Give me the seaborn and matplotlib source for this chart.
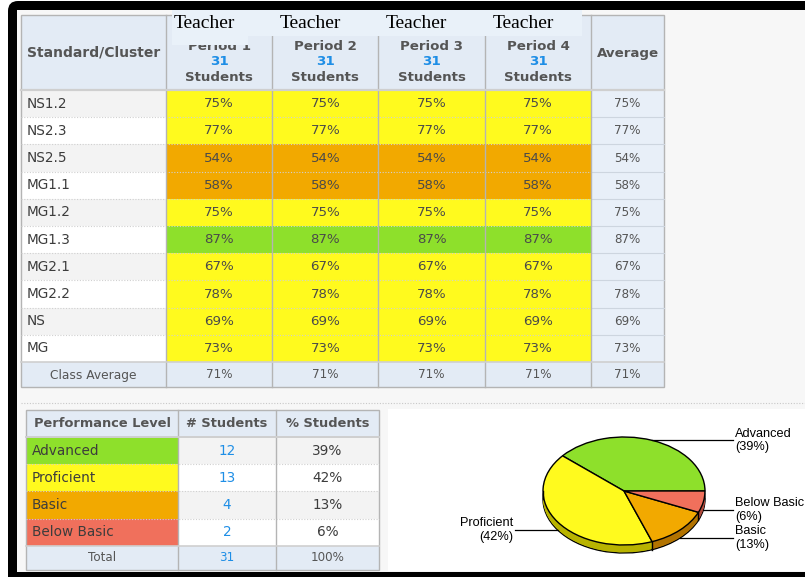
import numpy as np
import pandas as pd
import matplotlib
matplotlib.use("Agg")
import matplotlib.pyplot as plt
from matplotlib.colors import ListedColormap
from matplotlib.patches import Rectangle, FancyBboxPatch
import seaborn as sns

# ---- data ----
standards = ["NS1.2", "NS2.3", "NS2.5", "MG1.1", "MG1.2", "MG1.3", "MG2.1", "MG2.2", "NS", "MG"]
periods = ["Period 1", "Period 2", "Period 3", "Period 4"]
period_students = [31, 31, 31, 31]
period_1 = [75, 77, 54, 58, 75, 87, 67, 78, 69, 73]
period_2 = [75, 77, 54, 58, 75, 87, 67, 78, 69, 73]
period_3 = [75, 77, 54, 58, 75, 87, 67, 78, 69, 73]
period_4 = [75, 77, 54, 58, 75, 87, 67, 78, 69, 73]

levels = ["Advanced", "Proficient", "Basic", "Below Basic"]
level_students = [12, 13, 4, 2]
level_cuts = [50, 65, 80]  # below basic | basic | proficient | advanced

level_colors = ["#8ee02b", "#fffa1e", "#f2a900", "#f0705c"]
side_colors = ["#5f9a1c", "#b8b300", "#b27300", "#b04a3c"]
head_bg = "#e3ebf5"
grid = "#b4b4b4"
txt = "#4a4a4a"
blue = "#1e8ee6"

scores = pd.DataFrame(dict(zip(periods, [period_1, period_2, period_3, period_4])), index=standards)
avg_col = scores.mean(axis=1)
class_avg = scores.mean(axis=0)
total = sum(level_students)
level_pct = [round(100 * n / total) for n in level_students]

W, H = 805, 577
fig = plt.figure(figsize=(W / 100, H / 100), dpi=100)
plt.rcParams["font.family"] = ["DejaVu Sans"]


def place(x0, y0, x1, y1, z=1):
    return fig.add_axes([x0 / W, 1 - y1 / H, (x1 - x0) / W, (y1 - y0) / H], zorder=z)


bg = place(0, 0, W, H, 0)
bg.set_xlim(0, W)
bg.set_ylim(H, 0)
bg.axis("off")

fg = place(0, 0, W, H, 5)
fg.set_xlim(0, W)
fg.set_ylim(H, 0)
fg.axis("off")
fg.patch.set_alpha(0)

# screenshot frame
bg.add_patch(FancyBboxPatch((8, 1), 900, 700, boxstyle="round,pad=0,rounding_size=10",
                            fc="black", ec="none"))
bg.add_patch(Rectangle((17, 10), W, 562, fc="#f7f7f7", ec="none"))
bg.plot([21, W], [403, 403], ls=(0, (1, 1.5)), color="#c8c8c8", lw=0.8)
bg.add_patch(Rectangle((388, 409), W, 162, fc="white", ec="none"))

# ---- main table ----
col_x = [21, 166, 272, 378, 485, 591, 664]
top, head_bot = 15, 90
row_h = 27.2
body_bot = head_bot + row_h * len(standards)
tab_bot = 387

bg.add_patch(Rectangle((21, top), 643, head_bot - top, fc=head_bg, ec="none"))
bg.add_patch(Rectangle((21, body_bot), 643, tab_bot - body_bot, fc=head_bg, ec="none"))
bg.add_patch(Rectangle((591, head_bot), 73, body_bot - head_bot, fc="#e8eff8", ec="none"))
for i, s in enumerate(standards):
    y0 = head_bot + i * row_h
    bg.add_patch(Rectangle((21, y0), 145, row_h, fc="#f3f3f3" if i % 2 == 0 else "white", ec="none"))
    fg.text(27, y0 + row_h / 2, s, ha="left", va="center", fontsize=9.8, color="#3c3c3c")
    fg.text(627.5, y0 + row_h / 2, f"{avg_col[s]:.0f}%", ha="center", va="center", fontsize=8.6, color="#555555")

heat = place(166, head_bot, 591, body_bot, 2)
level_idx = scores.apply(lambda c: np.digitize(c, level_cuts))
annot = scores.map(lambda v: f"{v}%")
sns.heatmap(level_idx, cmap=ListedColormap(level_colors[::-1]), vmin=-0.5, vmax=3.5,
            annot=annot, fmt="", cbar=False, ax=heat, xticklabels=False, yticklabels=False,
            annot_kws=dict(color=txt, fontsize=9.6))

fg.text(93.5, 375, "Class Average", ha="center", va="center", fontsize=8.8, color="#555555")
for j, p in enumerate(periods):
    cx = (col_x[j + 1] + col_x[j + 2]) / 2
    fg.text(cx, 375, f"{class_avg[p]:.0f}%", ha="center", va="center", fontsize=8.6, color="#555555")
fg.text(627.5, 375, f"{class_avg.mean():.0f}%", ha="center", va="center", fontsize=8.6, color="#555555")

# header
fg.text(93.5, 53, "Standard/Cluster", ha="center", va="center", fontsize=10, weight="bold", color="#555555")
fg.text(627.5, 53, "Average", ha="center", va="center", fontsize=9.6, weight="bold", color="#555555")
for j, p in enumerate(periods):
    cx = (col_x[j + 1] + col_x[j + 2]) / 2
    fg.text(cx, 46, p, ha="center", va="center", fontsize=9.6, weight="bold", color="#555555")
    fg.text(cx, 61.5, str(period_students[j]), ha="center", va="center", fontsize=9.6, weight="bold", color=blue)
    fg.text(cx, 77.5, "Students", ha="center", va="center", fontsize=9.6, weight="bold", color="#555555")

# grid lines
for y in [head_bot + i * row_h for i in range(1, len(standards))]:
    fg.plot([21, 591], [y, y], ls=(0, (1, 1.5)), color="#d0d0d0", lw=0.8)
    fg.plot([591, 664], [y, y], color="#cdd5df", lw=0.8)
for x in col_x[1:-1]:
    fg.plot([x, x], [top, tab_bot], color=grid, lw=1)
fg.plot([21, 664], [head_bot, head_bot], color="#cfcfcf", lw=1.6)
fg.plot([21, 664], [body_bot, body_bot], color="#cfcfcf", lw=1.2)
fg.add_patch(Rectangle((21, top), 643, tab_bot - top, fc="none", ec=grid, lw=1))

# pasted "Teacher" labels over the period header
fg.add_patch(Rectangle((172, 10), 410, 26, fc="#e9f1f9", ec="none", zorder=4))
fg.add_patch(Rectangle((172, 36), 76, 9, fc="#e9f1f9", ec="none", zorder=4))
for j in range(len(periods)):
    cx = (col_x[j + 1] + col_x[j + 2]) / 2
    fg.text(cx - 15, 23, "Teacher", ha="center", va="center", fontsize=14,
            family="Liberation Serif", color="black", zorder=5)

# ---- performance level table ----
lx = [26, 178, 276, 379]
ltop, lhead = 410, 437
lrow = 27.2
lbody = lhead + lrow * len(levels)
lbot = 570
bg.add_patch(Rectangle((26, ltop), 353, lhead - ltop, fc=head_bg, ec="none"))
bg.add_patch(Rectangle((26, lbody), 353, lbot - lbody, fc=head_bg, ec="none"))
for i in range(len(levels)):
    bg.add_patch(Rectangle((178, lhead + i * lrow), 201, lrow,
                           fc="#f3f3f3" if i % 2 == 0 else "white", ec="none"))

lev = place(26, lhead, 178, lbody, 2)
sns.heatmap(pd.DataFrame({"level": range(len(levels))}, index=levels), cmap=ListedColormap(level_colors),
            vmin=-0.5, vmax=len(levels) - 0.5, cbar=False, ax=lev, xticklabels=False, yticklabels=False)

for i, name in enumerate(levels):
    yc = lhead + (i + 0.5) * lrow
    fg.text(32, yc, name, ha="left", va="center", fontsize=9.8, color="#3c3c3c")
    fg.text(227, yc, str(level_students[i]), ha="center", va="center", fontsize=9.8, color=blue)
    fg.text(327.5, yc, f"{level_pct[i]}%", ha="center", va="center", fontsize=9.8, color="#3c3c3c")
    if i > 0:
        fg.plot([26, 379], [lhead + i * lrow] * 2, ls=(0, (1, 1.5)), color="#d0d0d0", lw=0.8)
yt = (lbody + lbot) / 2
fg.text(102, yt, "Total", ha="center", va="center", fontsize=8.6, color="#555555")
fg.text(227, yt, str(total), ha="center", va="center", fontsize=8.6, color=blue)
fg.text(327.5, yt, "100%", ha="center", va="center", fontsize=8.6, color="#555555")
fg.text(102, (ltop + lhead) / 2, "Performance Level", ha="center", va="center", fontsize=9.4,
        weight="bold", color="#555555")
fg.text(227, (ltop + lhead) / 2, "# Students", ha="center", va="center", fontsize=9.4,
        weight="bold", color="#555555")
fg.text(327.5, (ltop + lhead) / 2, "% Students", ha="center", va="center", fontsize=9.4,
        weight="bold", color="#555555")
for x in lx[1:-1]:
    fg.plot([x, x], [ltop, lbot], color=grid, lw=1)
fg.plot([26, 379], [lhead, lhead], color="#cfcfcf", lw=1.4)
fg.plot([26, 379], [lbody, lbody], color="#cfcfcf", lw=1.2)
fg.add_patch(Rectangle((26, ltop), 353, lbot - ltop, fc="none", ec=grid, lw=1))

# ---- 3D-ish pie ----
cx, cy, rx, ry, depth = 624, 491, 81, 54, 8
d = depth / ry
pie = place(cx - rx, cy - ry, cx + rx, cy + ry + depth, 3)
pie.pie(level_students, colors=side_colors, startangle=0, center=(0, -d),
        wedgeprops=dict(edgecolor="black", linewidth=1))
for k in np.linspace(d, 0, 14)[1:-1]:
    pie.pie(level_students, colors=side_colors, startangle=0, center=(0, -k),
            wedgeprops=dict(linewidth=0))
wedges, _ = pie.pie(level_students, colors=level_colors, startangle=0,
                    wedgeprops=dict(edgecolor="black", linewidth=1))
pie.set_aspect("auto")
pie.set_xlim(-1, 1)
pie.set_ylim(-1 - d, 1)

edges = [w.theta1 for w in wedges] + [0, 180]
for a in np.deg2rad(edges):
    if np.sin(a) <= 1e-9:
        pie.plot([np.cos(a)] * 2, [np.sin(a), np.sin(a) - d], color="black", lw=1)

for w, name, pct in zip(wedges, levels, level_pct):
    mid = np.deg2rad((w.theta1 + w.theta2) / 2)
    x, y = np.cos(mid), np.sin(mid)
    if y < 0:
        y -= d
    if x > 0:
        pie.plot([x, 1.345], [y, y], color="black", lw=0.9, clip_on=False)
        pie.text(1.37, y, f"{name}\n({pct}%)", ha="left", va="center", fontsize=9.2,
                 family="Liberation Sans", linespacing=1.15, clip_on=False)
    else:
        pie.plot([x, -1.345], [y, y], color="black", lw=0.9, clip_on=False)
        pie.text(-1.37, y, f"{name}\n({pct}%)", ha="right", va="center", ma="right", fontsize=9.2,
                 family="Liberation Sans", linespacing=1.15, clip_on=False)

fig.savefig("out.png", dpi=100)
